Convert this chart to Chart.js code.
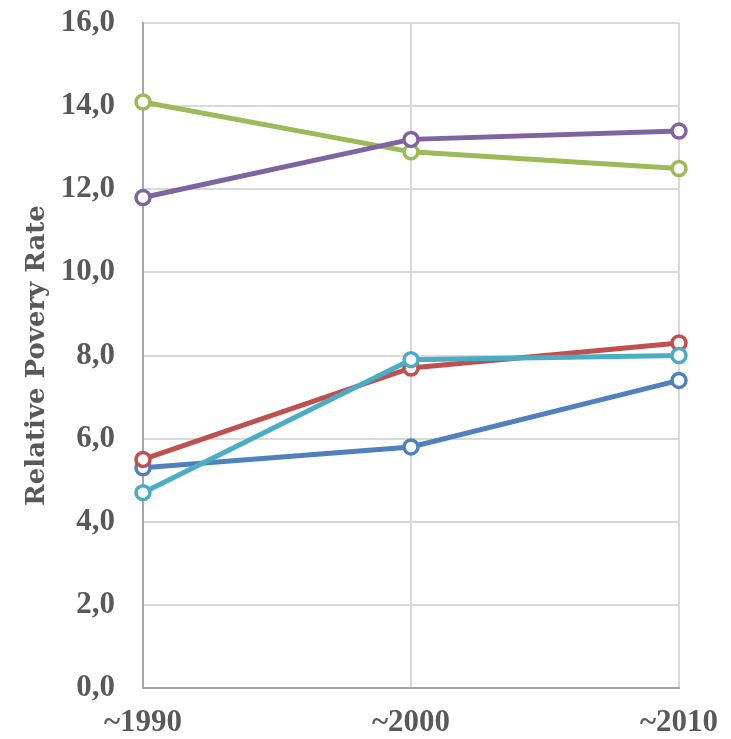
<!DOCTYPE html>
<html lang="en">
<head>
  <meta charset="UTF-8">
  <title>Relative Poverty Rate</title>
  <script src="https://cdn.jsdelivr.net/npm/chart.js"></script>
  <style>
    body {
      margin: 0;
      padding: 0;
      background: #ffffff;
    }
    .chart-container {
      position: relative;
      width: 731px;
      height: 739px;
    }
  </style>
</head>
<body>
  <div class="chart-container">
    <canvas id="poverty-chart"></canvas>
  </div>

  <script>
    // Data
    const periods = ['~1990', '~2000', '~2010'];
    const blueSeries = [5.3, 5.8, 7.4];
    const redSeries = [5.5, 7.7, 8.3];
    const greenSeries = [14.1, 12.9, 12.5];
    const purpleSeries = [11.8, 13.2, 13.4];
    const cyanSeries = [4.7, 7.9, 8.0];

    const tickFont = { family: '"Liberation Serif", "Times New Roman", serif', size: 31, weight: 'bold' };
    const textColor = '#595959';

    function line(data, color) {
      return {
        data: data,
        borderColor: color,
        backgroundColor: '#ffffff',
        borderWidth: 5,
        pointRadius: 7,
        pointHoverRadius: 7,
        pointBorderWidth: 3.5,
        pointBackgroundColor: '#ffffff',
        pointBorderColor: color,
        tension: 0
      };
    }

    const ctx = document.getElementById('poverty-chart').getContext('2d');
    new Chart(ctx, {
      type: 'line',
      data: {
        labels: periods,
        // first dataset is drawn on top
        datasets: [
          line(cyanSeries, '#4BACC6'),
          line(purpleSeries, '#8064A2'),
          line(greenSeries, '#9BBB59'),
          line(redSeries, '#C0504D'),
          line(blueSeries, '#4F81BD')
        ]
      },
      options: {
        responsive: true,
        maintainAspectRatio: false,
        animation: false,
        layout: {
          padding: { top: 23, right: 52, bottom: 0, left: 22 }
        },
        plugins: {
          legend: { display: false },
          tooltip: { enabled: false }
        },
        scales: {
          x: {
            offset: false,
            grid: { color: '#d9d9d9', lineWidth: 2, drawTicks: false },
            border: { color: '#a6a6a6', width: 2 },
            ticks: {
              font: tickFont,
              color: textColor,
              padding: 16,
              maxRotation: 0,
              autoSkip: false
            },
            afterFit: (scale) => {
              scale.height = 51;
              scale.paddingLeft = 0;
              scale.paddingRight = 0;
            }
          },
          y: {
            min: 0,
            max: 16,
            grid: { color: '#d9d9d9', lineWidth: 2, drawTicks: false },
            border: { color: '#a6a6a6', width: 2 },
            ticks: {
              stepSize: 2,
              font: tickFont,
              color: textColor,
              padding: 28,
              callback: (v) => v.toFixed(1).replace('.', ',')
            },
            title: {
              display: true,
              text: 'Relative Povery Rate',
              color: textColor,
              font: { family: '"DejaVu Serif", serif', size: 26, weight: 'bold' },
              padding: { top: 0, bottom: 0 }
            },
            afterFit: (scale) => {
              scale.width = 121;
              scale.paddingTop = 0;
              scale.paddingBottom = 0;
            }
          }
        }
      }
    });
  </script>
</body>
</html>
